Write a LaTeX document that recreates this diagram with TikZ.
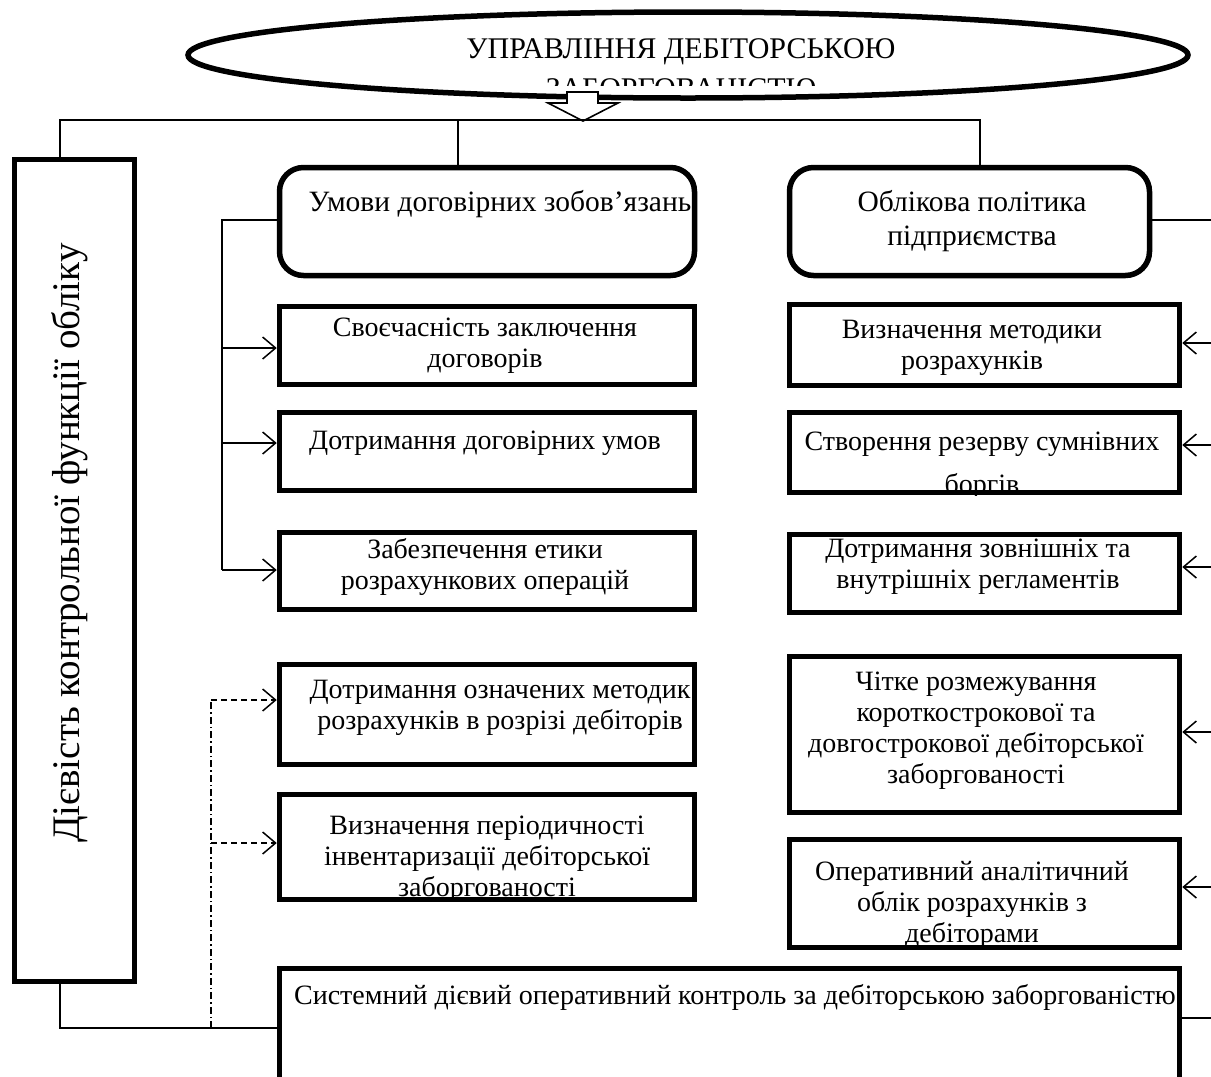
\documentclass[tikz,border=0pt]{standalone}
\usepackage{fontspec}
\setmainfont{Liberation Serif}
\usetikzlibrary{arrows.meta,shapes.geometric}
\begin{document}
\begin{tikzpicture}[x=1pt,y=-1pt,
  box/.style={draw,line width=5.5pt,inner sep=0pt,outer sep=2.75pt},
  rbox/.style={box,rounded corners=24pt},
  txt/.style={font=\fontsize{28}{31}\selectfont,align=center,inner sep=0pt},
  htxt/.style={font=\fontsize{29.5}{34}\selectfont,align=center,inner sep=0pt},
  conn/.style={line width=1.5pt},
  arr/.style={conn,-{Straight Barb[length=13pt,width=22pt]}},
  darr/.style={arr,dash pattern=on 6pt off 4pt},
  ddot/.style={conn,dash pattern=on 7pt off 3pt on 1.5pt off 3pt},
]
\useasboundingbox (0,0) rectangle (1211,1077);
\clip (0,0) rectangle (1211,1077);

% ellipse
\node[ellipse,draw,line width=5.5pt,minimum width=1000pt,minimum height=86pt,inner sep=0pt] (ell) at (688,55) {};
\node[font=\fontsize{30}{34}\selectfont,inner sep=0pt] (e1) at (681,52) {УПРАВЛІННЯ ДЕБІТОРСЬКОЮ};
\begin{scope}
  \clip (188,20) rectangle (1188,85);
  \node[font=\fontsize{30}{34}\selectfont,inner sep=0pt] (e2) at (681,89) {ЗАБОРГОВАНІСТЮ};
\end{scope}

% block arrow
\draw[line width=1.6pt,fill=white] (567,92) -- (598,92) -- (598,103) -- (618,103) -- (583,121) -- (548,103) -- (567,103) -- cycle;

% boxes
\node[box,minimum width=120pt,minimum height=822pt] (lbox) at (74.5,570.5) {};
\node[rbox,minimum width=415pt,minimum height=108pt] (umovy) at (487,221.5) {};
\node[rbox,minimum width=360pt,minimum height=108pt] (oblik) at (969.5,221.5) {};
\node[box,minimum width=415pt,minimum height=78pt] (m1) at (487,345.5) {};
\node[box,minimum width=415pt,minimum height=78pt] (m2) at (487,451.5) {};
\node[box,minimum width=415pt,minimum height=77pt] (m3) at (487,571) {};
\node[box,minimum width=415pt,minimum height=100pt] (m4) at (487,714.5) {};
\node[box,minimum width=415pt,minimum height=105pt] (m5) at (487,847) {};
\node[box,minimum width=900pt,minimum height=129pt] (sys) at (729.5,1033) {};
\node[box,minimum width=390pt,minimum height=81pt] (r1) at (984.5,345) {};
\node[box,minimum width=390pt,minimum height=80pt] (r2) at (984.5,452.5) {};
\node[box,minimum width=390pt,minimum height=78pt] (r3) at (984.5,573.5) {};
\node[box,minimum width=390pt,minimum height=156pt] (r4) at (984.5,734.5) {};
\node[box,minimum width=390pt,minimum height=108pt] (r5) at (984.5,893.5) {};

% texts
\node[font=\fontsize{39}{44}\selectfont,rotate=90,inner sep=0pt] (tv) at (70,543) {Дієвість контрольної функції обліку};
\node[htxt] (tu) at (500,204) {Умови договірних зобов’язань};
\node[htxt] (to) at (972,221) {Облікова політика\\підприємства};
\node[txt] (t1) at (485,346) {Своєчасність заключення\\договорів};
\node[txt] (t2) at (485,443) {Дотримання договірних умов};
\node[txt] (t3) at (485,567) {Забезпечення етики\\розрахункових операцій};
\node[txt] (t4) at (500,708) {Дотримання означених методик\\розрахунків в розрізі дебіторів};
\begin{scope}
  \clip (m5.south west) rectangle (m5.north east);
  \node[txt] (t5) at (487,859) {Визначення періодичності\\інвентаризації дебіторської\\заборгованості};
\end{scope}
\node[txt] (t6) at (735,997) {Системний дієвий оперативний контроль за дебіторською заборгованістю};
\node[txt] (r1t) at (972,348) {Визначення методики\\розрахунків};
\begin{scope}
  \clip (r2.south west) rectangle (r2.north east);
  \node[txt] (r2t) at (982,466) {Створення резерву сумнівних\\[12pt]боргів};
\end{scope}
\node[txt] (r3t) at (978,567) {Дотримання зовнішніх та\\внутрішніх регламентів};
\node[txt] (r4t) at (976,731) {Чітке розмежування\\короткострокової та\\довгострокової дебіторської\\заборгованості};
\begin{scope}
  \clip (r5.south west) rectangle (r5.north east);
  \node[txt] (r5t) at (972,905) {Оперативний аналітичний\\облік розрахунків з\\дебіторами};
\end{scope}

% top connectors
\coordinate (jL) at (60,120);
\coordinate (jM) at (458,120);
\coordinate (jR) at (980,120);
\draw[conn] (lbox.north -| jL) -- (jL) -- (jR) -- (oblik.north -| jR);
\draw[conn] (jM) -- (umovy.north -| jM);

% left bracket
\coordinate (lb0) at (222,220);
\coordinate (lb1) at (222,348);
\coordinate (lb2) at (222,443);
\coordinate (lb3) at (222,570);
\draw[conn] (umovy.west |- lb0) -- (lb0) -- (lb3);
\draw[arr] (lb1) -- (m1.west |- lb1);
\draw[arr] (lb2) -- (m2.west |- lb2);
\draw[arr] (lb3) -- (m3.west |- lb3);

% right side
\coordinate (rb0) at (1230,220);
\coordinate (rb1) at (1230,343);
\coordinate (rb2) at (1230,445);
\coordinate (rb3) at (1230,567);
\coordinate (rb4) at (1230,732);
\coordinate (rb5) at (1230,887);
\coordinate (rs) at (1230,1018);
\draw[conn] (oblik.east |- rb0) -- (rb0);
\draw[arr] (rb1) -- (r1.east |- rb1);
\draw[arr] (rb2) -- (r2.east |- rb2);
\draw[arr] (rb3) -- (r3.east |- rb3);
\draw[arr] (rb4) -- (r4.east |- rb4);
\draw[arr] (rb5) -- (r5.east |- rb5);
\draw[conn] (sys.east |- rs) -- (rs);

% bottom left
\coordinate (jB) at (60,1028);
\coordinate (dB) at (211,1028);
\coordinate (d1) at (211,700);
\coordinate (d2) at (211,843);
\draw[conn] (lbox.south -| jB) -- (jB) -- (sys.west |- jB);
\draw[ddot] (dB) -- (d1);
\draw[darr] (d1) -- (m4.west |- d1);
\draw[darr] (d2) -- (m5.west |- d2);
\end{tikzpicture}
\end{document}
